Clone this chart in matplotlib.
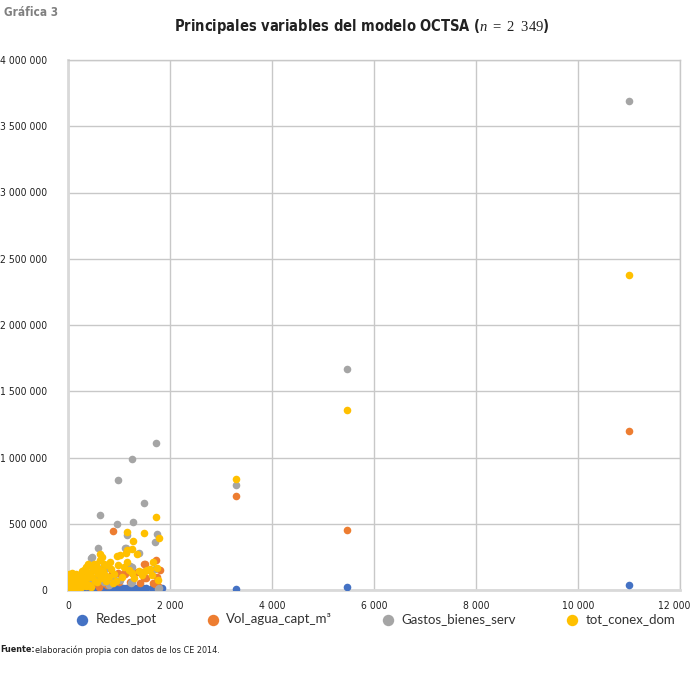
import matplotlib
matplotlib.use("Agg")
import matplotlib.pyplot as plt
from matplotlib.ticker import FuncFormatter, MultipleLocator

plt.rcParams["font.family"] = ["DejaVu Sans"]
plt.rcParams["font.stretch"] = "condensed"
plt.rcParams["mathtext.fontset"] = "custom"
plt.rcParams["mathtext.it"] = "Liberation Serif:italic"
plt.rcParams["mathtext.rm"] = "Liberation Serif"

series_names = ["Redes_pot", "Vol_agua_capt_m\u00b3", "Gastos_bienes_serv", "tot_conex_dom"]
series_colors = ["#4472C4", "#ED7D31", "#A5A5A5", "#FFC000"]

# Redes_pot (x, y)
redes_x = [11000, 5470, 3300, 20, 60, 110, 160, 210, 260, 300, 340, 380, 420, 460, 500,
           540, 580, 620, 660, 700, 740, 780, 830, 880, 930, 980, 1030, 1080, 1130,
           1180, 1230, 1280, 1330, 1380, 1430, 1480, 1530, 1640, 1680, 1720, 1760, 1800, 1840]
redes_y = [38000, 23000, 10000, 3000, 5000, 4000, 6000, 5000, 8000, 6000, 9000, 7000,
           10000, 8000, 12000, 9000, 11000, 13000, 10000, 14000, 12000, 15000, 13000,
           16000, 14000, 17000, 15000, 18000, 16000, 14000, 17000, 15000, 18000, 16000,
           17000, 15000, 16000, 14000, 17000, 15000, 18000, 16000, 12000]

# Vol_agua_capt_m3 (x, y)
agua_x = [11000, 5470, 3300, 880, 1490, 1725, 1670, 1745, 1765, 1490, 1100, 1350, 860,
          1255, 1510, 1470, 1530, 1705, 1120, 980, 690, 820, 1215, 1410, 0, 10,
          20, 30, 60, 100, 150, 200, 250, 300, 350, 400, 500, 600, 700, 40, 120,
          560, 760, 1000, 1600, 1800]
agua_y = [1200000, 452000, 709000, 445000, 196000, 226000, 53000, 100000, 30000, 90000,
          130000, 136000, 130000, 130000, 200000, 136000, 90000, 45000, 120000, 128000,
          53000, 100000, 60000, 50000, 75000, 110000, 110000, 80000, 50000, 95000,
          70000, 40000, 110000, 60000, 90000, 30000, 70000, 20000, 85000, 20000,
          30000, 45000, 40000, 60000, 150000, 150000]

# Gastos_bienes_serv (x, y)
gastos_x = [11000, 5470, 3300, 1725, 1255, 980, 1490, 630, 960, 1275, 1160, 1745, 1705,
            590, 450, 1140, 1390, 1705, 1785, 1255, 1255, 1020, 860, 765, 1120, 470,
            1215, 1235, 1765, 690, 920, 100, 200, 300, 350, 250, 150, 400, 500, 550,
            650, 700, 800, 450]
gastos_y = [3690000, 1667000, 792000, 1108000, 988000, 830000, 656000, 566000, 500000,
            510000, 415000, 420000, 360000, 317000, 240000, 317000, 280000, 158000,
            15000, 170000, 60000, 75000, 90000, 166000, 317000, 250000, 180000, 53000,
            5000, 170000, 75000, 30000, 50000, 70000, 100000, 20000, 10000, 130000,
            150000, 90000, 120000, 60000, 40000, 60000]

# tot_conex_dom (x, y)
conex_x = [11000, 5470, 3300, 1725, 1160, 1490, 1275, 1785, 630, 960, 1140, 1255, 1350,
           1670, 1745, 1510, 765, 985, 1255, 820, 1020, 1160, 390, 490, 290, 880,
           1450, 1765, 20, 40, 60, 80, 100, 120, 150, 170, 200, 220, 250, 280, 300,
           330, 350, 380, 400, 420, 450, 470, 500, 520, 550, 580, 600, 640, 680, 720,
           30, 90, 160, 260, 360, 460, 10, 50, 140, 240, 310, 430, 510, 560, 620,
           660, 700, 750, 800, 850, 900, 950, 1050, 1100, 1150, 1200, 1300, 1400,
           1550, 1600, 1650, 5, 15, 70, 110, 180, 210]
conex_y = [2376000, 1357000, 837000, 550000, 437000, 430000, 370000, 390000, 270000,
           256000, 280000, 310000, 270000, 210000, 166000, 140000, 190000, 190000,
           125000, 210000, 265000, 300000, 200000, 166000, 136000, 53000, 110000,
           75000, 20000, 60000, 100000, 130000, 40000, 90000, 120000, 60000, 100000,
           30000, 80000, 140000, 110000, 60000, 170000, 90000, 130000, 40000, 180000,
           100000, 150000, 70000, 200000, 120000, 160000, 90000, 140000, 110000,
           10000, 15000, 25000, 20000, 30000, 25000, 40000, 80000, 50000, 50000,
           150000, 110000, 200000, 60000, 230000, 250000, 200000, 70000, 100000,
           160000, 120000, 70000, 100000, 170000, 210000, 150000, 90000, 140000,
           150000, 160000, 110000, 60000, 120000, 30000, 70000, 50000, 10000]

xs = [redes_x, agua_x, gastos_x, conex_x]
ys = [redes_y, agua_y, gastos_y, conex_y]

fig = plt.figure(figsize=(6.92, 6.86), dpi=100)
ax = fig.add_axes([68 / 692, 1 - 590 / 686, 612 / 692, 530 / 686])

for x, y, name, color in zip(xs, ys, series_names, series_colors):
    ax.scatter(x, y, s=30, color=color, label=name, linewidths=0, zorder=3)

ax.set_xlim(0, 12000)
ax.set_ylim(0, 4000000)
ax.xaxis.set_major_locator(MultipleLocator(2000))
ax.yaxis.set_major_locator(MultipleLocator(500000))


def spaced(v, pos):
    return f"{int(v):,}".replace(",", " ")


def spaced_x(v, pos):
    s = spaced(v, pos)
    # trailing padding keeps the last label inside the canvas
    return s + "\u2007\u2007" if v >= 12000 else s


ax.xaxis.set_major_formatter(FuncFormatter(spaced_x))
ax.yaxis.set_major_formatter(FuncFormatter(spaced))
ax.grid(True, color="#C8C8C8", linewidth=1.0, zorder=0)
ax.set_axisbelow(True)
for side in ["top", "right"]:
    ax.spines[side].set_color("#C8C8C8")
    ax.spines[side].set_linewidth(1.0)
for side in ["left", "bottom"]:
    ax.spines[side].set_color("#D9D9D9")
    ax.spines[side].set_linewidth(2.0)
ax.tick_params(length=0, labelsize=7.5, colors="#222222")
ax.tick_params(axis="y", pad=15)
ax.tick_params(axis="x", pad=8)

fig.text(4 / 692, 1 - 12 / 686, "Gráfica 3", fontweight="bold",
         fontsize=8.5, color="#808080", va="center", ha="left")
fig.text(362 / 692, 1 - 27 / 686,
         r"Principales variables del modelo OCTSA ($\mathit{n}\mathrm{\ =\ 2\ \ 349}$)",
         fontweight="bold", fontsize=10.5, ha="center", va="center",
         color="#222222")

leg = fig.legend(loc="center", bbox_to_anchor=(372 / 692, 1 - 619 / 686), ncol=4,
                 frameon=False, handletextpad=0.05, columnspacing=3.2,
                 markerscale=1.5, prop={"family": "Lato", "size": 9.5})
for t in leg.get_texts():
    t.set_color("#333333")

fig.text(0, 1 - 650 / 686, "Fuente:", fontweight="bold",
         fontsize=6.5, va="center", ha="left", color="#222222")
fig.text(35 / 692, 1 - 650 / 686, "elaboración propia con datos de los CE 2014.",
         fontsize=6.5, va="center", ha="left", color="#222222")

fig.savefig("out.png", dpi=100)
